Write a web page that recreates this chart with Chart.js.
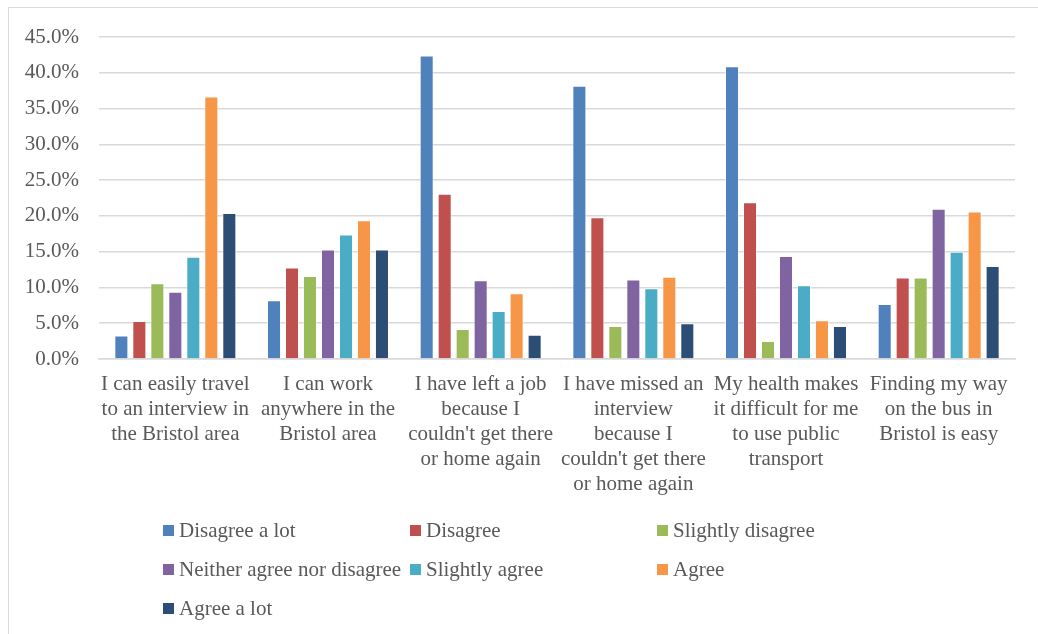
<!DOCTYPE html>
<html lang="en">
<head>
<meta charset="UTF-8" />
<title>Bristol travel survey</title>
<script src="https://cdn.jsdelivr.net/npm/chart.js@4"></script>
<style>
  html, body { margin: 0; padding: 0; background: #fff; }
  #wrap { position: relative; width: 1038px; height: 634px; overflow: hidden; }
  #frame {
    position: absolute; left: 8px; top: 7px; width: 1040px; height: 640px;
    border: 1px solid #d9d9d9; box-sizing: border-box;
  }
  #chart { position: absolute; left: 0; top: 0; }
  #legend {
    position: absolute; left: 163px; top: 511px;
    display: grid; grid-template-columns: 247px 247px 250px; grid-auto-rows: 39px;
    font-family: "Liberation Serif", "Times New Roman", serif; font-size: 21px; color: #595959;
  }
  #legend .item { display: flex; align-items: center; height: 39px; white-space: nowrap; }
  #legend .box { width: 11px; height: 11px; margin-right: 5px; flex: none; }
</style>
</head>
<body>
<div id="wrap">
  <div id="frame"></div>
  <canvas id="chart" width="1038" height="634"></canvas>
  <div id="legend"></div>
</div>
<script>
// statements, wrapped the way they appear under the axis
const categories = [
  ["I can easily travel", "to an interview in", "the Bristol area"],
  ["I can work", "anywhere in the", "Bristol area"],
  ["I have left a job", "because I", "couldn't get there", "or home again"],
  ["I have missed an", "interview", "because I", "couldn't get there", "or home again"],
  ["My health makes", "it difficult for me", "to use public", "transport"],
  ["Finding my way", "on the bus in", "Bristol is easy"]
];

const responses = [
  "Disagree a lot", "Disagree", "Slightly disagree",
  "Neither agree nor disagree", "Slightly agree", "Agree", "Agree a lot"
];

const colours = ["#4F81BD", "#C0504D", "#9BBB59", "#8064A2", "#4BACC6", "#F79646", "#2C4D75"];

// percentage of respondents per statement
const disagreeALot = [3.3, 8.2, 42.4, 38.2, 40.9, 7.7];
const disagree = [5.3, 12.8, 23.1, 19.8, 21.9, 11.4];
const slightlyDisagree = [10.6, 11.6, 4.2, 4.6, 2.5, 11.4];
const neither = [9.4, 15.3, 11.0, 11.1, 14.4, 21.0];
const slightlyAgree = [14.3, 17.4, 6.7, 9.9, 10.3, 15.0];
const agree = [36.7, 19.4, 9.2, 11.5, 5.4, 20.6];
const agreeALot = [20.4, 15.3, 3.4, 5.0, 4.6, 13.0];

const seriesValues = [disagreeALot, disagree, slightlyDisagree, neither, slightlyAgree, agree, agreeALot];

const yTicks = [0, 5, 10, 15, 20, 25, 30, 35, 40, 45];

const font = { family: "'Liberation Serif', 'Times New Roman', serif", size: 21 };
const textColour = "#595959";

const datasets = responses.map((name, i) => ({
  label: name,
  data: seriesValues[i],
  backgroundColor: colours[i],
  borderColor: "rgba(255,255,255,0.55)",
  borderWidth: 1,
  barPercentage: 0.78,
  categoryPercentage: 0.825
}));

new Chart(document.getElementById("chart").getContext("2d"), {
  type: "bar",
  data: { labels: categories, datasets },
  options: {
    responsive: false,
    animation: false,
    layout: { padding: { left: 9, right: 23, top: 37, bottom: 125 } },
    plugins: { legend: { display: false }, tooltip: { enabled: false } },
    scales: {
      x: {
        afterFit: (s) => { s.height = 150; },
        grid: { display: false },
        border: { color: "#d9d9d9", width: 1.5 },
        ticks: {
          color: textColour, font: { ...font, lineHeight: 25 / 21 },
          maxRotation: 0, autoSkip: false, padding: 5
        }
      },
      y: {
        min: 0, max: 45,
        afterFit: (s) => { s.width = 90; },
        afterBuildTicks: (s) => { s.ticks = yTicks.map((v) => ({ value: v })); },
        grid: { color: "#d9d9d9", lineWidth: 1.5, drawTicks: false },
        border: { display: false },
        ticks: {
          color: textColour, font, padding: 20,
          callback: (v) => v.toFixed(1) + "%"
        }
      }
    }
  }
});

// legend in three columns under the plot
const legend = document.getElementById("legend");
responses.forEach((name, i) => {
  const item = document.createElement("div");
  item.className = "item";
  item.innerHTML = `<span class="box" style="background:${colours[i]}"></span>${name}`;
  legend.appendChild(item);
});
</script>
</body>
</html>
